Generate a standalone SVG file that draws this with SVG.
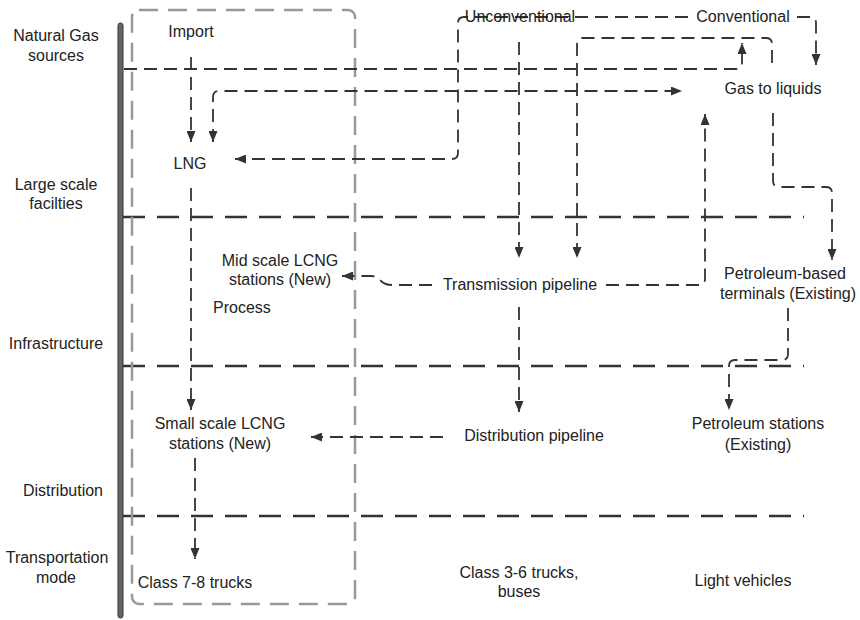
<svg xmlns="http://www.w3.org/2000/svg" width="860" height="620" viewBox="0 0 860 620">
  <defs>
    <marker id="arrow" markerUnits="userSpaceOnUse" markerWidth="11" markerHeight="9" refX="11" refY="4.5" orient="auto-start-reverse">
      <path d="M0,0 L11,4.5 L0,9 z" fill="#333"/>
    </marker>
    <style>
      text { font-family: "Liberation Sans", Arial, sans-serif; font-size: 16px; fill: #222; }
      .c { text-anchor: middle; }
      .conn { fill: none; stroke: #333; stroke-width: 1.8; stroke-dasharray: 13 7; }
      .tier { fill: none; stroke: #333; stroke-width: 2.6; stroke-dasharray: 22 12; }
      .box { fill: none; stroke: #999; stroke-width: 2.5; stroke-dasharray: 19 10; }
    </style>
  </defs>
  <rect width="860" height="620" fill="#fff"/>

  <!-- tier axis and separators -->
  <g id="axis">
    <rect x="118" y="23" width="5" height="595" rx="2.5" fill="#666" stroke="#333" stroke-width="1"/>
    <line class="tier" x1="123" y1="217" x2="804" y2="217"/>
    <line class="tier" x1="123" y1="366" x2="804" y2="366"/>
    <line class="tier" x1="123" y1="516" x2="804" y2="516"/>
  </g>

  <!-- process region -->
  <rect id="process-box" class="box" x="132" y="10" width="223" height="594" rx="7"/>

  <!-- tier labels -->
  <g id="tier-labels">
    <text class="c" x="56" y="41">Natural Gas</text>
    <text class="c" x="56" y="61">sources</text>
    <text class="c" x="56" y="190">Large scale</text>
    <text class="c" x="56" y="209">facilties</text>
    <text class="c" x="56" y="349">Infrastructure</text>
    <text class="c" x="63" y="496">Distribution</text>
    <text class="c" x="57" y="563">Transportation</text>
    <text class="c" x="56" y="583">mode</text>
  </g>

  <!-- connectors -->
  <g id="connectors">
    <path class="conn" d="M191,57 V142" marker-end="url(#arrow)"/>
    <path class="conn" d="M213,142 V97 Q213,91 219,91 H682" marker-start="url(#arrow)" marker-end="url(#arrow)"/>
    <path class="conn" d="M124,69 H735 Q742,69 742,62 V43" marker-end="url(#arrow)"/>
    <path class="conn" d="M688,17 H464 Q458,17 458,23 V153 Q458,159 452,159 H235" marker-end="url(#arrow)"/>
    <path class="conn" d="M797,17 H810 Q816,17 816,23 V65" marker-end="url(#arrow)"/>
    <path class="conn" d="M519,42 V258" marker-end="url(#arrow)"/>
    <path class="conn" d="M772,63 V44 Q772,38 766,38 H583 Q577,38 577,44 V258" marker-end="url(#arrow)"/>
    <path class="conn" d="M432,285 H392 Q385,285 381,281 Q377,276 371,276 H342" marker-end="url(#arrow)"/>
    <path class="conn" d="M606,285 H699 Q705,285 705,279 V114" marker-end="url(#arrow)"/>
    <path class="conn" d="M519,307 V412" marker-end="url(#arrow)"/>
    <path class="conn" d="M443,437 H311" marker-end="url(#arrow)"/>
    <path class="conn" d="M191,188 V410" marker-end="url(#arrow)"/>
    <path class="conn" d="M195,458 V559" marker-end="url(#arrow)"/>
    <path class="conn" d="M773,113 V181 Q773,187 779,187 H826 Q832,187 832,193 V260" marker-end="url(#arrow)"/>
    <path class="conn" d="M788,308 V354 Q788,360 782,360 H735 Q729,360 729,366 V410" marker-end="url(#arrow)"/>
  </g>

  <!-- nodes -->
  <g id="import"><text class="c" x="191" y="37">Import</text></g>
  <g id="unconventional"><text class="c" x="520" y="22">Unconventional</text></g>
  <g id="conventional"><text class="c" x="743" y="22">Conventional</text></g>
  <g id="gas-to-liquids"><text class="c" x="773" y="94">Gas to liquids</text></g>
  <g id="lng"><text class="c" x="190" y="169">LNG</text></g>
  <g id="mid-scale-lcng">
    <text class="c" x="280" y="266">Mid scale LCNG</text>
    <text class="c" x="280" y="285">stations (New)</text>
  </g>
  <g id="process-label"><text x="213" y="313">Process</text></g>
  <g id="transmission-pipeline"><text class="c" x="520" y="290">Transmission pipeline</text></g>
  <g id="petroleum-terminals">
    <text class="c" x="785" y="279">Petroleum-based</text>
    <text class="c" x="788" y="299">terminals (Existing)</text>
  </g>
  <g id="small-scale-lcng">
    <text class="c" x="220" y="429">Small scale LCNG</text>
    <text class="c" x="220" y="449">stations (New)</text>
  </g>
  <g id="distribution-pipeline"><text class="c" x="534" y="441">Distribution pipeline</text></g>
  <g id="petroleum-stations">
    <text class="c" x="758" y="429">Petroleum stations</text>
    <text class="c" x="758" y="450">(Existing)</text>
  </g>
  <g id="class-7-8"><text class="c" x="195" y="588">Class 7-8 trucks</text></g>
  <g id="class-3-6">
    <text class="c" x="519" y="578">Class 3-6 trucks,</text>
    <text class="c" x="519" y="597">buses</text>
  </g>
  <g id="light-vehicles"><text class="c" x="743" y="586">Light vehicles</text></g>
</svg>
